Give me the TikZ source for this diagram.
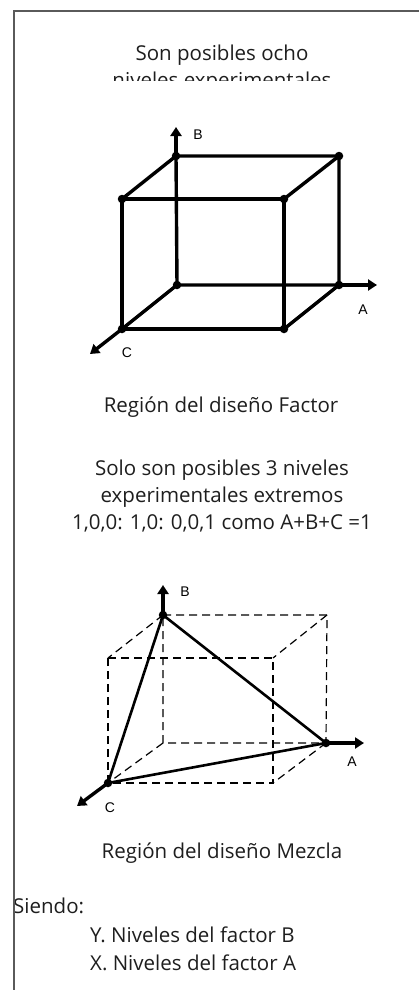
\documentclass[tikz,border=0pt]{standalone}
\usepackage{fontspec}
\setmainfont{Open Sans}
\newfontfamily\axisfont{Liberation Sans}
\usetikzlibrary{arrows.meta}
\definecolor{framegray}{HTML}{5A5A5A}
\definecolor{textgray}{HTML}{1E1E1E}
\tikzset{
  dot/.style={circle,fill=black,inner sep=0pt,minimum size=8.5pt},
  edge/.style={line width=3.4pt},
  side/.style={line width=2.6pt},
  axis/.style={line width=3.4pt,-{Triangle[length=9pt,width=11pt]}},
  guide/.style={line width=1.2pt,dash pattern=on 8pt off 5pt},
  caption/.style={text=textgray,font=\fontsize{20.5}{24}\selectfont,anchor=base},
  axislabel/.style={font=\axisfont\fontsize{14}{16}\selectfont}
}
\begin{document}
\begin{tikzpicture}[x=1pt,y=-1pt]
    \useasboundingbox (0,0) rectangle (419,990);
    % header text
    \node[caption] (ocho) at (222,60) {Son posibles ocho};
    \begin{scope}
      \clip (0,63) rectangle (419,80);
      \node[caption] (ochocut) at (222,88) {niveles experimentales};
    \end{scope}
    % factor cube
    \node[dot] (btl) at (176,156) {};
    \node[dot] (btr) at (339,156) {};
    \node[dot] (ftl) at (122,199) {};
    \node[dot] (ftr) at (284,199) {};
    \node[dot] (bbl) at (177,285) {};
    \node[dot] (bbr) at (339,285) {};
    \node[dot] (fbl) at (122,329) {};
    \node[dot] (fbr) at (284,329) {};
    \draw[edge] (btl.center)--(btr.center)--(bbr.center)--(bbl.center)--cycle;
    \draw[edge] (ftl.center)--(ftr.center)--(fbr.center)--(fbl.center)--cycle;
    \draw[edge] (btl.center)--(ftl.center);
    \draw[edge] (btr.center)--(ftr.center);
    \draw[edge] (bbl.center)--(fbl.center);
    \draw[edge] (bbr.center)--(fbr.center);
    \coordinate (atip) at (377,285);
    \coordinate (btip) at (176,127);
    \coordinate (ctip) at (90,354);
    \draw[axis] (bbr.center)--(atip);
    \draw[axis] (btl.center)--(btip);
    \draw[axis] (fbl.center)--(ctip);
    \node[axislabel] (alab) at (363,310) {A};
    \node[axislabel] (blab) at (198,135) {B};
    \node[axislabel] (clab) at (127,353) {C};
    \node[caption] (factor) at (221,412) {Región del diseño Factor};
    % mixture text
    \node[caption] (solo1) at (222,475) {Solo son posibles 3 niveles};
    \node[caption] (solo2) at (222,502) {experimentales extremos};
    \node[caption] (solo3) at (222,529) {1,0,0: 1,0: 0,0,1 como A+B+C =1};
    % mixture cube
    \node[dot] (pb) at (163,615) {};
    \node[dot] (pa) at (326,743) {};
    \node[dot] (pc) at (108,783) {};
    \coordinate (qbtr) at (327,615);
    \coordinate (qftl) at (108,658);
    \coordinate (qftr) at (273,658);
    \coordinate (qbbl) at (163,743);
    \coordinate (qfbr) at (273,783);
    \draw[guide] (pb.center)--(qbtr)--(pa.center)--(qbbl)--cycle;
    \draw[guide] (qftl)--(qftr)--(qfbr)--(pc.center)--cycle;
    \draw[guide] (pb.center)--(qftl);
    \draw[guide] (qbtr)--(qftr);
    \draw[guide] (qbbl)--(pc.center);
    \draw[guide] (pa.center)--(qfbr);
    \draw[side] (pb.center)--(pa.center)--(pc.center)--cycle;
    \coordinate (patip) at (364,743);
    \coordinate (pbtip) at (163,585);
    \coordinate (pctip) at (77,806);
    \draw[axis] (pa.center)--(patip);
    \draw[axis] (pb.center)--(pbtip);
    \draw[axis] (pc.center)--(pctip);
    \node[axislabel] (palab) at (352,762) {A};
    \node[axislabel] (pblab) at (185,592) {B};
    \node[axislabel] (pclab) at (110,808) {C};
    \node[caption] (mezcla) at (222,858) {Región del diseño Mezcla};
    % legend
    \node[caption,anchor=base west,inner sep=0pt] (siendo) at (13,913) {Siendo:};
    \node[caption,anchor=base west,inner sep=0pt] (ylev) at (90,942) {Y. Niveles del factor B};
    \node[caption,anchor=base west,inner sep=0pt] (xlev) at (90,970) {X. Niveles del factor A};
    % frame
    \draw[framegray,line width=2pt] (419,11)--(14,11)--(14,990);
\end{tikzpicture}
\end{document}
